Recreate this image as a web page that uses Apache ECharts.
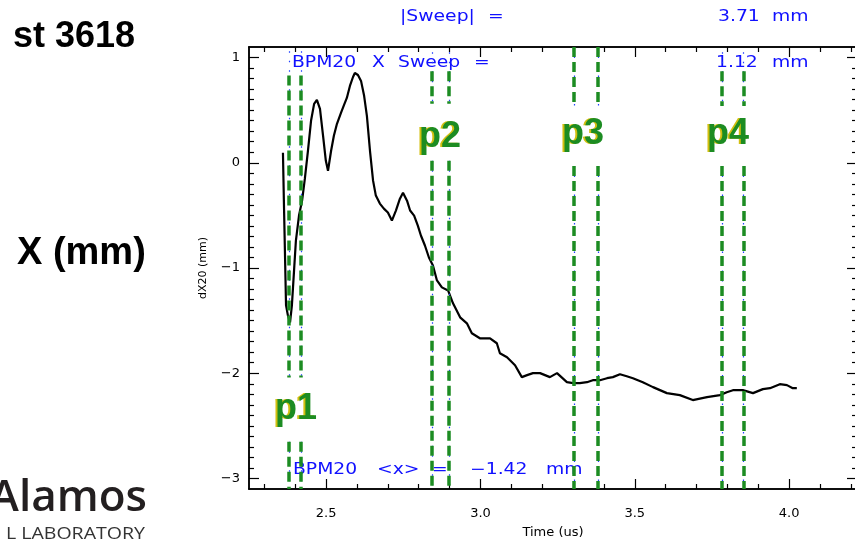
<!DOCTYPE html>
<html>
<head>
<meta charset="utf-8">
<script src="https://cdn.jsdelivr.net/npm/echarts@6.0.0/dist/echarts.min.js"></script>
<style>
html, body { margin: 0; padding: 0; background: #fff; }
#chart { width: 855px; height: 549px; }
</style>
</head>
<body>
<div id="chart"></div>
<script>
// time in us, dX20 in mm
var timeUs = [2.360, 2.363, 2.367, 2.370, 2.376, 2.383, 2.389, 2.396, 2.402, 2.412,
    2.422, 2.431, 2.441, 2.451, 2.461, 2.470, 2.480, 2.490, 2.499, 2.506,
    2.516, 2.525, 2.535, 2.548, 2.558, 2.567, 2.577, 2.587, 2.593, 2.603,
    2.613, 2.623, 2.632, 2.642, 2.652, 2.661, 2.674, 2.687, 2.700, 2.713,
    2.726, 2.739, 2.749, 2.762, 2.772, 2.785, 2.797, 2.807, 2.820, 2.833,
    2.846, 2.859, 2.875, 2.895, 2.911, 2.934, 2.956, 2.972, 2.998, 3.031,
    3.053, 3.063, 3.086, 3.112, 3.134, 3.151, 3.170, 3.193, 3.225, 3.248,
    3.280, 3.300, 3.322, 3.345, 3.364, 3.387, 3.410, 3.429, 3.452, 3.474,
    3.494, 3.526, 3.559, 3.604, 3.646, 3.688, 3.734, 3.776, 3.798, 3.818,
    3.850, 3.883, 3.915, 3.938, 3.970, 3.993, 4.012, 4.025];
var dX20 = [0.095, -0.36, -0.928, -1.355, -1.450, -1.516, -1.355, -1.023, -0.739, -0.502,
    -0.36, -0.151, 0.114, 0.399, 0.560, 0.598, 0.512, 0.256, 0.019, -0.076,
    0.114, 0.256, 0.370, 0.474, 0.550, 0.616, 0.730, 0.815, 0.853, 0.834,
    0.778, 0.636, 0.446, 0.114, -0.170, -0.312, -0.388, -0.436, -0.473, -0.549,
    -0.454, -0.341, -0.284, -0.36, -0.454, -0.502, -0.597, -0.691, -0.786, -0.900,
    -0.976, -1.118, -1.184, -1.213, -1.336, -1.469, -1.526, -1.620, -1.668, -1.668,
    -1.715, -1.810, -1.848, -1.924, -2.037, -2.018, -1.999, -1.999, -2.037, -1.999,
    -2.085, -2.094, -2.094, -2.085, -2.066, -2.066, -2.047, -2.037, -2.009, -2.028,
    -2.047, -2.085, -2.132, -2.189, -2.208, -2.255, -2.227, -2.208, -2.180, -2.161,
    -2.161, -2.189, -2.151, -2.142, -2.104, -2.113, -2.142, -2.142];

var xMajor = [2.5, 3.0, 3.5, 4.0];
var yMajor = [-3, -2, -1, 0, 1];

// sample windows p1..p4 (pairs of times)
var sampleNames = ['p1', 'p2', 'p3', 'p4'];
var sampleTimes = [[2.380, 2.418], [2.843, 2.898], [3.303, 3.381], [3.782, 3.853]];
// dashed pieces (y from, y to) for each window, broken around the labels
var greenPieces = [
    [[0.83, -2.04], [-2.65, -3.1]],
    [[0.87, 0.56], [0.02, -3.1]],
    [[1.10, 0.54], [-0.03, -3.1]],
    [[0.87, 0.54], [-0.03, -3.1]]
];
var bluePieces = [
    [[1.06, -2.04], [-2.65, -3.1]],
    [[1.05, 0.56], [0.02, -3.1]],
    [[1.10, 0.54], [-0.03, -3.1]],
    [[1.05, 0.54], [-0.03, -3.1]]
];

var xMin = 2.25, xMax = 4.22, yMin = -3.1, yMax = 1.1;

var xMinor = [], yMinor = [];
for (var i = 23; i <= 42; i++) { if (i % 5 != 0) xMinor.push(i / 10); }
for (var j = -30; j <= 10; j++) { if (j % 10 != 0) yMinor.push(j / 10); }

var curve = [];
for (var k = 0; k < timeUs.length; k++) curve.push([timeUs[k], dX20[k]]);

function pieces(list) {
    var out = [];
    for (var a = 0; a < sampleTimes.length; a++) {
        for (var b = 0; b < 2; b++) {
            var t = sampleTimes[a][b];
            list[a].forEach(function (p) {
                out.push([{ coord: [t, p[0]] }, { coord: [t, p[1]] }]);
            });
        }
    }
    return out;
}

var axisCol = '#000';
var tickFont = { fontFamily: 'DejaVu Sans', fontSize: 13, color: '#000' };

function xAx(pos, vals, len, labels) {
    return {
        type: 'value', position: pos, min: xMin, max: xMax,
        axisLine: { show: true, onZero: false, lineStyle: { color: axisCol, width: 1.5 } },
        axisTick: { show: true, inside: true, length: len, customValues: vals, lineStyle: { color: axisCol, width: 1.2 } },
        axisLabel: labels ? Object.assign({ customValues: vals, margin: 18, formatter: function (v) { return v.toFixed(1); } }, tickFont) : { show: false },
        splitLine: { show: false }
    };
}
function yAx(pos, vals, len, labels) {
    return {
        type: 'value', position: pos, min: yMin, max: yMax,
        axisLine: { show: true, onZero: false, lineStyle: { color: axisCol, width: 1.5 } },
        axisTick: { show: true, inside: true, length: len, customValues: vals, lineStyle: { color: axisCol, width: 1.2 } },
        axisLabel: labels ? Object.assign({ customValues: vals, margin: 9, formatter: function (v) { return v < 0 ? '\u2212' + Math.abs(v) : String(v); } }, tickFont) : { show: false },
        splitLine: { show: false }
    };
}

var xAxes = [xAx('bottom', xMajor, 10, true), xAx('bottom', xMinor, 5, false),
             xAx('top', xMajor, 10, false), xAx('top', xMinor, 5, false)];
xAxes[0].name = 'Time (us)';
xAxes[0].nameLocation = 'middle';
xAxes[0].nameGap = 37;
xAxes[0].nameTextStyle = { fontFamily: 'DejaVu Sans', fontSize: 13, color: '#000' };

var yAxes = [yAx('left', yMajor, 10, true), yAx('left', yMinor, 5, false),
             yAx('right', yMajor, 10, false), yAx('right', yMinor, 5, false)];
yAxes[0].name = 'dX20 (mm)';
yAxes[0].nameLocation = 'middle';
yAxes[0].nameGap = 40;
yAxes[0].nameTextStyle = { fontFamily: 'DejaVu Sans', fontSize: 11, color: '#000' };

// blue IDL-style annotation words: [text, x, y]
var blueWords = [
    ['|Sweep|', 400, 17], ['=', 488, 17], ['3.71', 718, 17], ['mm', 772, 17],
    ['BPM20', 292, 63], ['X', 372, 63], ['Sweep', 398, 63], ['=', 474, 63], ['1.12', 716, 63], ['mm', 772, 63],
    ['BPM20', 293, 470], ['<x>', 377, 470], ['=', 432, 470], ['\u22121.42', 470, 470], ['mm', 546, 470]
];
var labelPos = [[296, 409], [440, 137], [583, 134], [728, 134]];

var graphics = [];
blueWords.forEach(function (w) {
    graphics.push({
        type: 'text', x: w[1], y: w[2], scaleX: 1.25, silent: true,
        style: { text: w[0], font: '15px "DejaVu Sans"', fill: '#1010ff', textAlign: 'left', textVerticalAlign: 'middle' }
    });
});
sampleNames.forEach(function (n, i) {
    graphics.push({
        type: 'text', x: labelPos[i][0] - 2, y: labelPos[i][1], silent: true,
        style: { text: n, font: 'bold 36px "Liberation Sans"', fill: '#d2bf10', textAlign: 'center', textVerticalAlign: 'middle' }
    });
    graphics.push({
        type: 'text', x: labelPos[i][0], y: labelPos[i][1], silent: true,
        style: { text: n, font: 'bold 36px "Liberation Sans"', fill: '#1c8c22', textAlign: 'center', textVerticalAlign: 'middle' }
    });
});
graphics.push(
    { type: 'text', x: 135, y: 37, silent: true,
      style: { text: 'st 3618', font: 'bold 36px "Liberation Sans"', fill: '#000', textAlign: 'right', textVerticalAlign: 'middle' } },
    { type: 'text', x: 17, y: 254, silent: true,
      style: { text: 'X (mm)', font: 'bold 38px "Liberation Sans"', fill: '#000', textAlign: 'left', textVerticalAlign: 'middle' } },
    { type: 'text', x: 147, y: 520, silent: true,
      style: { text: 'Alamos', font: '600 44px "Open Sans"', fill: '#231f20', textAlign: 'right', textVerticalAlign: 'bottom' } },
    { type: 'text', x: 145, y: 534, scaleX: 1.15, silent: true,
      style: { text: 'L LABORATORY', font: '17px "Open Sans"', fill: '#333', textAlign: 'right', textVerticalAlign: 'middle' } }
);

var chart = echarts.init(document.getElementById('chart'));
var option = {
    animation: false,
    backgroundColor: '#fff',
    grid: { left: 249, top: 47, right: -2, bottom: 60, containLabel: false, outerBoundsMode: 'none' },
    xAxis: xAxes,
    yAxis: yAxes,
    series: [
        {
            type: 'line', name: 'markers', data: [], clip: false, silent: true,
            markLine: {
                silent: true, symbol: ['none', 'none'], label: { show: false },
                lineStyle: { color: '#2040ff', width: 1.2, type: [1.5, 8] },
                data: pieces(bluePieces)
            }
        },
        {
            type: 'line', name: 'markers2', data: [], clip: false, silent: true,
            markLine: {
                silent: true, symbol: ['none', 'none'], label: { show: false },
                lineStyle: { color: '#1c8c22', width: 3.5, type: [10, 5] },
                data: pieces(greenPieces)
            }
        },
        {
            type: 'line', name: 'dX20', data: curve, showSymbol: false, smooth: false,
            lineStyle: { color: '#000', width: 2.2 }
        }
    ],
    graphic: graphics
};
chart.setOption(option);
</script>
</body>
</html>
